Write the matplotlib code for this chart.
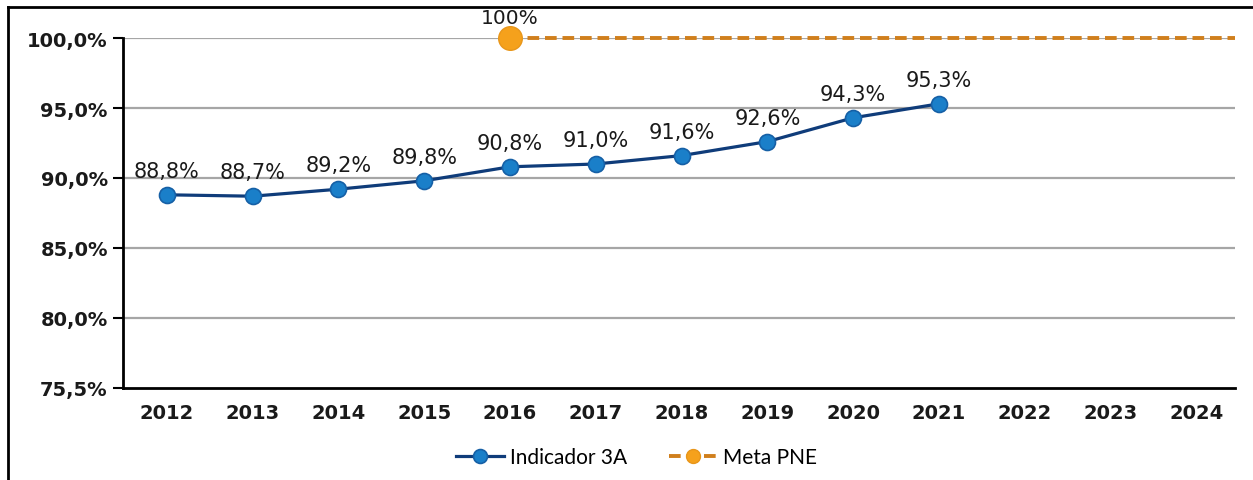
import numpy as np
import matplotlib.pyplot as plt
from matplotlib.lines import Line2D

# dados do indicador 3A
anos = [2012, 2013, 2014, 2015, 2016, 2017, 2018, 2019, 2020, 2021, 2022, 2023, 2024]
anos_indicador = [2012, 2013, 2014, 2015, 2016, 2017, 2018, 2019, 2020, 2021]
indicador = [88.8, 88.7, 89.2, 89.8, 90.8, 91.0, 91.6, 92.6, 94.3, 95.3]
rotulos_indicador = ['88,8%', '88,7%', '89,2%', '89,8%', '90,8%', '91,0%', '91,6%', '92,6%', '94,3%', '95,3%']

# meta do PNE
anos_meta = [2016, 2017, 2018, 2019, 2020, 2021, 2022, 2023, 2024]
meta = [100, 100, 100, 100, 100, 100, 100, 100, 100]
rotulo_meta = '100%'

# eixo y
ticks_y = [75, 80, 85, 90, 95, 100]
rotulos_y = ['75,5%', '80,0%', '85,0%', '90,0%', '95,0%', '100,0%']

fig = plt.figure(figsize=(12.53, 4.81), dpi=100)
ax = fig.add_axes([0.0982, 0.1913, 0.8874, 0.7276])

ax.set_xlim(2011.49, 2024.45)
ax.set_ylim(75, 100)

# grade
for v in ticks_y[1:]:
    ax.axhline(v, color='#a6a6a6', lw=1.6, zorder=0)

# meta (linha tracejada segue até a borda do gráfico)
x_meta = anos_meta + [ax.get_xlim()[1]]
y_meta = meta + [meta[-1]]
ax.plot(x_meta, y_meta, color='#d07f1c', lw=2.8, ls=(0, (3.0, 1.5)),
        marker='o', markevery=[0], ms=17, mfc='#f5a11c', mec='#e8961a', zorder=3,
        label='Meta PNE', clip_on=False)
ax.plot(anos_indicador, indicador, color='#0f3c7a', lw=2.3, marker='o', ms=11.5,
        mfc='#1a7fc9', mec='#1660a6', mew=1.2, zorder=4, label='Indicador 3A')

for x, y, r in zip(anos_indicador, indicador, rotulos_indicador):
    ax.annotate(r, (x, y), xytext=(0, 10), textcoords='offset points',
                ha='center', va='bottom', fontsize=15, color='#1a1a1a')
ax.annotate(rotulo_meta, (anos_meta[0], meta[0]), xytext=(0, 8), textcoords='offset points',
            ha='center', va='bottom', fontsize=14.5, color='#1a1a1a')

ax.set_xticks(anos)
ax.set_xticklabels([str(a) for a in anos], fontsize=14, fontweight='bold', color='#1a1a1a')
ax.set_yticks(ticks_y)
ax.set_yticklabels(rotulos_y, fontsize=14, fontweight='bold', color='#1a1a1a')
ax.tick_params(axis='x', length=0, pad=11)
ax.tick_params(axis='y', length=7, width=1.5, pad=4)

for s in ['top', 'right']:
    ax.spines[s].set_visible(False)
ax.spines['left'].set_linewidth(2)
ax.spines['bottom'].set_linewidth(2)

h, l = ax.get_legend_handles_labels()
leg = ax.legend(h[::-1], l[::-1], loc='center', bbox_to_anchor=(0.462, -0.197), ncol=2,
                frameon=False, prop={'family': 'Lato', 'size': 15}, handlelength=2.3,
                columnspacing=2.0, handletextpad=0.3)
for hd in leg.legend_handles:
    hd.set_markersize(10)

# moldura
fig.add_artist(Line2D([8 / 1253, 1], [1 - 8 / 481, 1 - 8 / 481], color='black', lw=2))
fig.add_artist(Line2D([8 / 1253, 8 / 1253], [0, 1 - 8 / 481], color='black', lw=2))

fig.savefig('out.png', dpi=100)
